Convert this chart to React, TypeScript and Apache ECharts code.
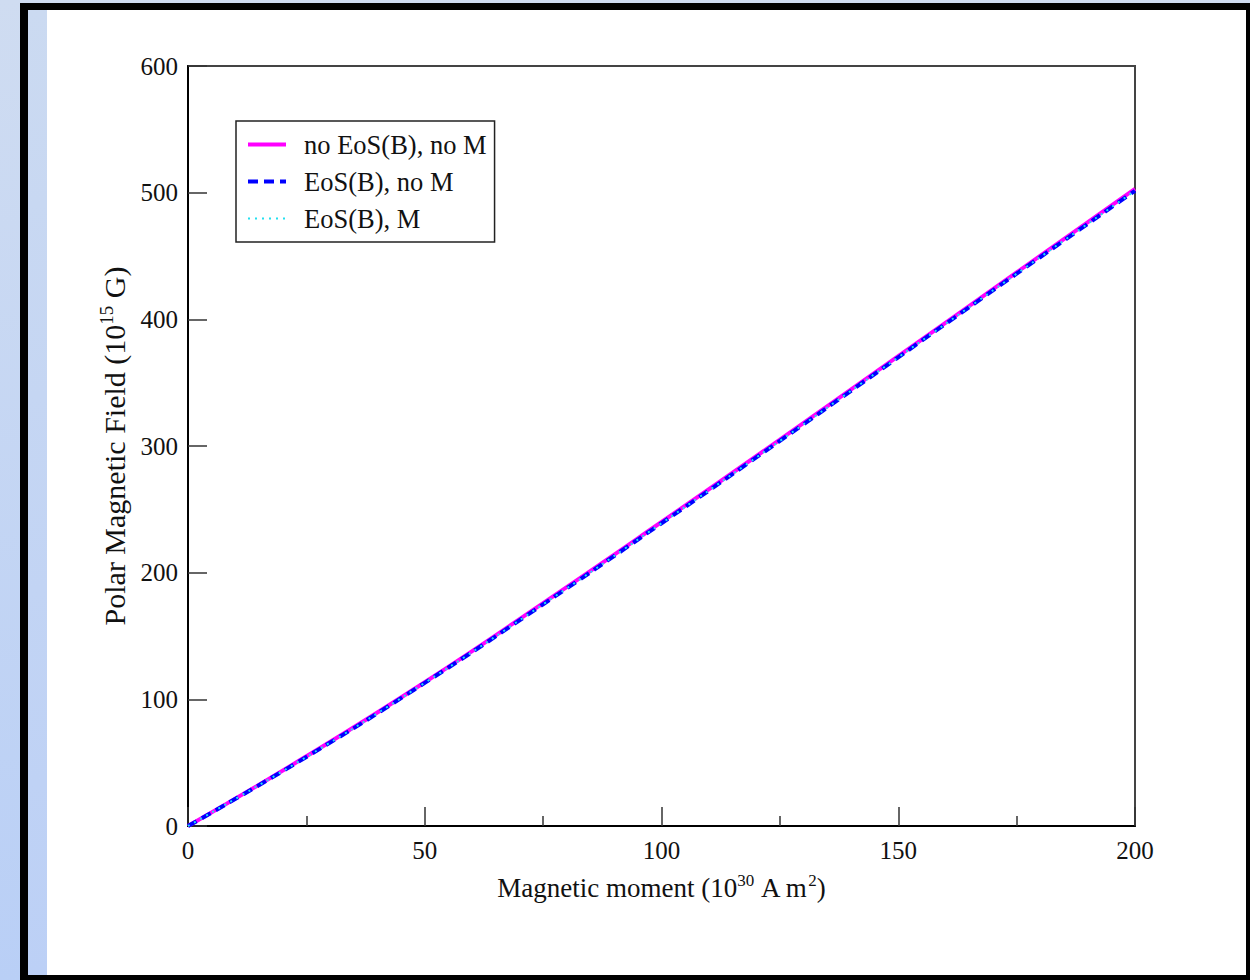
import React, { useEffect, useRef } from 'react';
import * as echarts from 'echarts';

const FONT = "'Liberation Serif', 'Times New Roman', serif";

const moment = [0, 25, 50, 75, 100, 125, 150, 175, 200];
const fieldNoEosNoM = [0, 55, 113.5, 176, 240, 305, 371, 437, 503];
const fieldEosNoM = [0, 54.5, 113, 175, 239, 304, 370, 436, 501.5];
const fieldEosM = [0, 54.5, 113, 175, 239, 304, 370, 436, 501.5];
const seriesNames = ['no EoS(B), no M', 'EoS(B), no M', 'EoS(B), M'];
const seriesColors = ['#ff00ff', '#0000ff', '#22e0f0'];
const seriesWidths = [4, 4, 2];
const seriesDash: any[] = ['solid', [10, 6], [2, 5]];

const pairs = (ys: number[]) => moment.map((x, i) => [x, ys[i]]);

export default function App() {
  const ref = useRef<HTMLDivElement>(null);
  useEffect(() => {
    if (!ref.current) return;
    const chart = echarts.init(ref.current, undefined, { renderer: 'svg' });
    const richX = {
      t: { fontSize: 27, fontFamily: FONT, color: '#111', lineHeight: 32 },
      s: { fontSize: 17, fontFamily: FONT, color: '#111', verticalAlign: 'top', lineHeight: 14 },
    };
    const richY = {
      t: { fontSize: 30, fontFamily: FONT, color: '#111', lineHeight: 36 },
      s: { fontSize: 19, fontFamily: FONT, color: '#111', verticalAlign: 'top', lineHeight: 15 },
    };
    chart.setOption({
      animation: false,
      backgroundColor: 'transparent',
      graphic: [
        { type: 'rect', z: -100, silent: true, shape: { x: 0, y: 0, width: 1250, height: 980 },
          style: { fill: new echarts.graphic.LinearGradient(0, 0, 0, 1, [{ offset: 0, color: '#cfdcf1' }, { offset: 1, color: '#b9cff6' }]) } },
        { type: 'rect', z: -99, silent: true, shape: { x: 20, y: 3, width: 1230, height: 977 }, style: { fill: '#000' } },
        { type: 'rect', z: -98, silent: true, shape: { x: 28, y: 10, width: 1218, height: 965 },
          style: { fill: new echarts.graphic.LinearGradient(0, 0, 0, 1, [{ offset: 0, color: '#cbdaf1' }, { offset: 1, color: '#bcd0f6' }]) } },
        { type: 'rect', z: -97, silent: true, shape: { x: 47, y: 10, width: 1199, height: 965 }, style: { fill: '#fff' } },
      ],
      grid: {
        left: 188, top: 66, width: 947, height: 760,
        show: true, borderColor: '#444', borderWidth: 2, backgroundColor: 'transparent',
      },
      legend: {
        orient: 'vertical',
        left: 236, top: 121,
        itemWidth: 38, itemHeight: 14, itemGap: 10,
        padding: [10, 8, 10, 10],
        borderColor: '#222', borderWidth: 1.5, backgroundColor: '#fff',
        textStyle: { fontSize: 26.5, fontFamily: FONT, color: '#111', lineHeight: 26, padding: [0, 0, 0, 13] },
        data: seriesNames.map((name, i) => ({
          name,
          itemStyle: { opacity: 0 },
          lineStyle: { color: seriesColors[i], width: seriesWidths[i], type: seriesDash[i], opacity: 1 },
        })),
      },
      xAxis: {
        type: 'value', min: 0, max: 200, interval: 50,
        name: '{t|Magnetic moment (10}{s|30}{t| A m}{s|2}{t|)}',
        nameLocation: 'middle', nameGap: 46,
        nameTextStyle: { rich: richX },
        axisLine: { show: true, onZero: false, lineStyle: { color: '#000', width: 2 } },
        axisTick: { show: true, inside: true, length: 19, lineStyle: { color: '#333', width: 1.5 } },
        minorTick: { show: true, splitNumber: 2, length: 10, lineStyle: { color: '#333', width: 1.5 } },
        splitLine: { show: false },
        axisLabel: { fontSize: 25, fontFamily: FONT, color: '#111', margin: 12, showMinLabel: true, showMaxLabel: true },
      },
      yAxis: {
        type: 'value', min: 0, max: 600, interval: 100,
        name: '{t|Polar Magnetic Field (10}{s|15}{t| G)}',
        nameLocation: 'middle', nameGap: 50, nameRotate: 90,
        nameTextStyle: { rich: richY },
        axisLine: { show: true, onZero: false, lineStyle: { color: '#000', width: 2 } },
        axisTick: { show: true, inside: true, length: 19, lineStyle: { color: '#333', width: 1.5 } },
        splitLine: { show: false },
        axisLabel: { fontSize: 25, fontFamily: FONT, color: '#111', margin: 10 },
      },
      series: [
        { name: seriesNames[0], type: 'line', data: pairs(fieldNoEosNoM), symbol: 'none', smooth: true,
          lineStyle: { color: seriesColors[0], width: seriesWidths[0], type: seriesDash[0] }, itemStyle: { color: seriesColors[0] } },
        { name: seriesNames[1], type: 'line', data: pairs(fieldEosNoM), symbol: 'none', smooth: true,
          lineStyle: { color: seriesColors[1], width: seriesWidths[1], type: seriesDash[1] }, itemStyle: { color: seriesColors[1] } },
        { name: seriesNames[2], type: 'line', data: pairs(fieldEosM), symbol: 'none', smooth: true,
          lineStyle: { color: seriesColors[2], width: seriesWidths[2], type: seriesDash[2] }, itemStyle: { color: seriesColors[2] } },
      ],
    });
    return () => chart.dispose();
  }, []);
  return (
    <div style={{ position: 'absolute', left: 0, top: 0, width: 1250, height: 980 }}>
      <div ref={ref} style={{ width: 1250, height: 980 }} />
    </div>
  );
}
